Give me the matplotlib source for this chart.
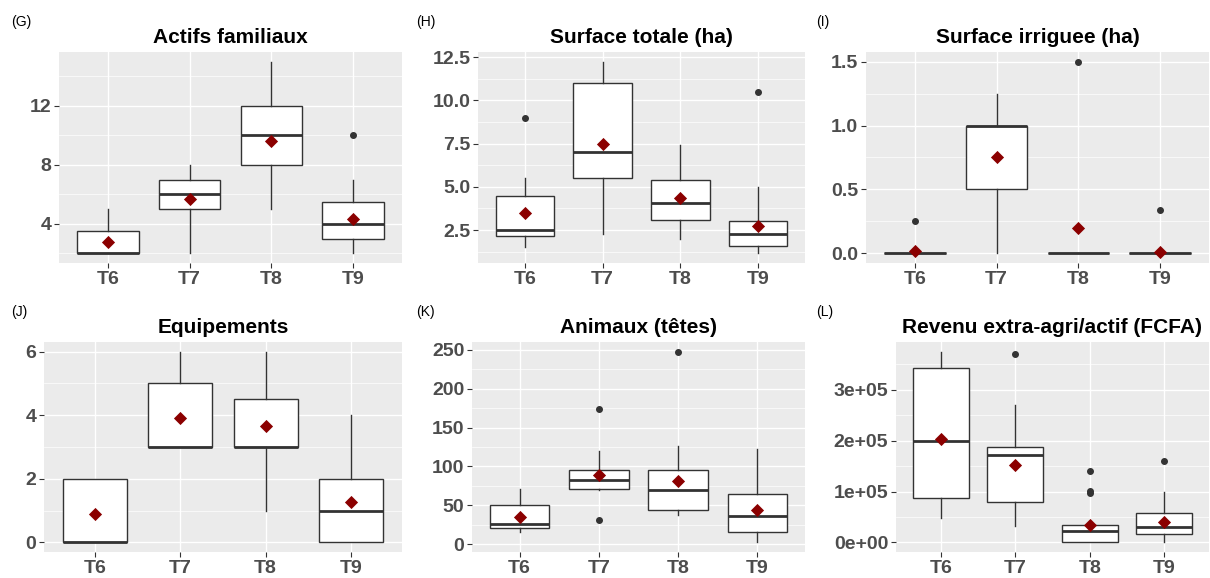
import numpy as np
import matplotlib
matplotlib.use('Agg')
from matplotlib import pyplot as plt
from matplotlib.ticker import FixedLocator, FuncFormatter

plt.rcParams['font.family'] = ['Liberation Sans', 'DejaVu Sans']

groups = ['T6', 'T7', 'T8', 'T9']

# five-number summaries per group: (whisker low, q1, median, q3, whisker high)
actifs_box = [(2, 2, 2, 3.5, 5), (2, 5, 6, 7, 8), (5, 8, 10, 12, 15), (2, 3, 4, 5.5, 7)]
actifs_mean = [2.75, 5.7, 9.6, 4.3]
actifs_out = [[], [], [], [10]]

surf_box = [(1.5, 2.15, 2.5, 4.5, 5.5), (2.25, 5.5, 7.0, 11.0, 12.25),
            (2.0, 3.1, 4.05, 5.4, 7.45), (1.15, 1.6, 2.3, 3.0, 5.0)]
surf_mean = [3.47, 7.5, 4.33, 2.73]
surf_out = [[9.0], [], [], [10.5]]

irr_box = [(0, 0, 0, 0, 0), (0, 0.5, 1.0, 1.0, 1.25), (0, 0, 0, 0, 0), (0, 0, 0, 0, 0)]
irr_mean = [0.02, 0.75, 0.2, 0.01]
irr_out = [[0.25], [], [1.5], [0.34]]

equip_box = [(0, 0, 0, 2, 2), (3, 3, 3, 5, 6), (1, 3, 3, 4.5, 6), (0, 0, 1, 2, 4)]
equip_mean = [0.9, 3.9, 3.67, 1.27]
equip_out = [[], [], [], []]

anim_box = [(15, 21, 26, 50, 71), (70, 71, 83, 96, 120), (37, 44, 70, 96, 126), (2, 15, 36, 64, 122)]
anim_mean = [35, 89, 81, 44]
anim_out = [[], [31, 174], [248], []]

rev_box = [(48000, 88000, 200000, 342000, 375000), (33000, 80000, 171000, 187000, 270000),
           (0, 0, 22000, 34000, 34000), (0, 17000, 31000, 57000, 100000)]
rev_mean = [203000, 153000, 34000, 40000]
rev_out = [[], [370000], [97000, 101000, 141000], [160000]]

panels = [
    ('(G)', 'Actifs familiaux', actifs_box, actifs_mean, actifs_out, [4, 8, 12], [2, 6, 10, 14], '{:.0f}'),
    ('(H)', 'Surface totale (ha)', surf_box, surf_mean, surf_out, [2.5, 5, 7.5, 10, 12.5],
     [1.25, 3.75, 6.25, 8.75, 11.25], '{:.1f}'),
    ('(I)', 'Surface irriguee (ha)', irr_box, irr_mean, irr_out, [0, 0.5, 1.0, 1.5], [0.25, 0.75, 1.25], '{:.1f}'),
    ('(J)', 'Equipements', equip_box, equip_mean, equip_out, [0, 2, 4, 6], [1, 3, 5], '{:.0f}'),
    ('(K)', 'Animaux (têtes)', anim_box, anim_mean, anim_out, [0, 50, 100, 150, 200, 250],
     [25, 75, 125, 175, 225], '{:.0f}'),
    ('(L)', 'Revenu extra-agri/actif (FCFA)', rev_box, rev_mean, rev_out, [0, 1e5, 2e5, 3e5],
     [0.5e5, 1.5e5, 2.5e5, 3.5e5], 'sci'),
]

W, H = 1210, 578
# axes rectangles in pixels: left, top, right, bottom
rects = [(59, 52, 402, 263), (478, 52, 805, 263), (866, 52, 1209, 263),
         (44, 342, 402, 552), (472, 342, 805, 552), (896, 342, 1209, 552)]
col_starts = [0, 405, 805]

fig = plt.figure(figsize=(W / 100, H / 100), dpi=100)

for i, (tag, title, box, means, outs, ticks, minors, fmt) in enumerate(panels):
    l, t, r, b = rects[i]
    ax = fig.add_axes([l / W, 1 - b / H, (r - l) / W, (b - t) / H])
    ax.set_facecolor('#EBEBEB')
    pos = np.arange(1, len(groups) + 1)
    stats = []
    for g, s, o in zip(groups, box, outs):
        stats.append(dict(label=g, whislo=s[0], q1=s[1], med=s[2], q3=s[3], whishi=s[4], fliers=o))
    ax.bxp(stats, positions=pos, widths=0.75, patch_artist=True, showcaps=False, zorder=3,
           boxprops=dict(facecolor='white', edgecolor='#333333', linewidth=1.0),
           medianprops=dict(color='#333333', linewidth=2.0, solid_capstyle='butt'),
           whiskerprops=dict(color='#333333', linewidth=1.0),
           flierprops=dict(marker='o', markersize=4, markerfacecolor='#333333',
                           markeredgecolor='#333333'))
    ax.scatter(pos, means, marker='D', s=45, color='#8B0000', zorder=5, linewidths=0)

    allv = [v for s in box for v in s] + [v for o in outs for v in o]
    lo, hi = min(allv), max(allv)
    pad = (hi - lo) * 0.05
    ax.set_ylim(lo - pad, hi + pad)
    ax.set_xlim(0.4, len(groups) + 0.6)

    ax.yaxis.set_major_locator(FixedLocator(ticks))
    ax.yaxis.set_minor_locator(FixedLocator(minors))
    if fmt == 'sci':
        ax.yaxis.set_major_formatter(FuncFormatter(lambda v, p: f'{v:.0e}'))
    else:
        ax.yaxis.set_major_formatter(FuncFormatter(lambda v, p, f=fmt: f.format(v)))
    ax.set_xticks(pos)
    ax.set_xticklabels(groups)
    ax.grid(which='major', color='white', linewidth=1.0, zorder=0)
    ax.grid(which='minor', axis='y', color='white', linewidth=0.5, zorder=0)
    ax.set_axisbelow(True)
    for sp in ax.spines.values():
        sp.set_visible(False)
    ax.tick_params(which='major', length=3.5, width=0.8, color='#333333', pad=2,
                   labelsize=14, labelcolor='#4D4D4D')
    ax.tick_params(which='minor', length=0)
    for lab in ax.get_xticklabels() + ax.get_yticklabels():
        lab.set_fontweight('bold')
    ax.set_title(title, fontsize=15, fontweight='bold', pad=6.5)

    row, col = divmod(i, 3)
    fig.text((col_starts[col] + 11) / W, 1 - (22 + row * 290) / H, tag, fontsize=10,
             va='center', ha='left')

fig.savefig('out.png', dpi=100)
